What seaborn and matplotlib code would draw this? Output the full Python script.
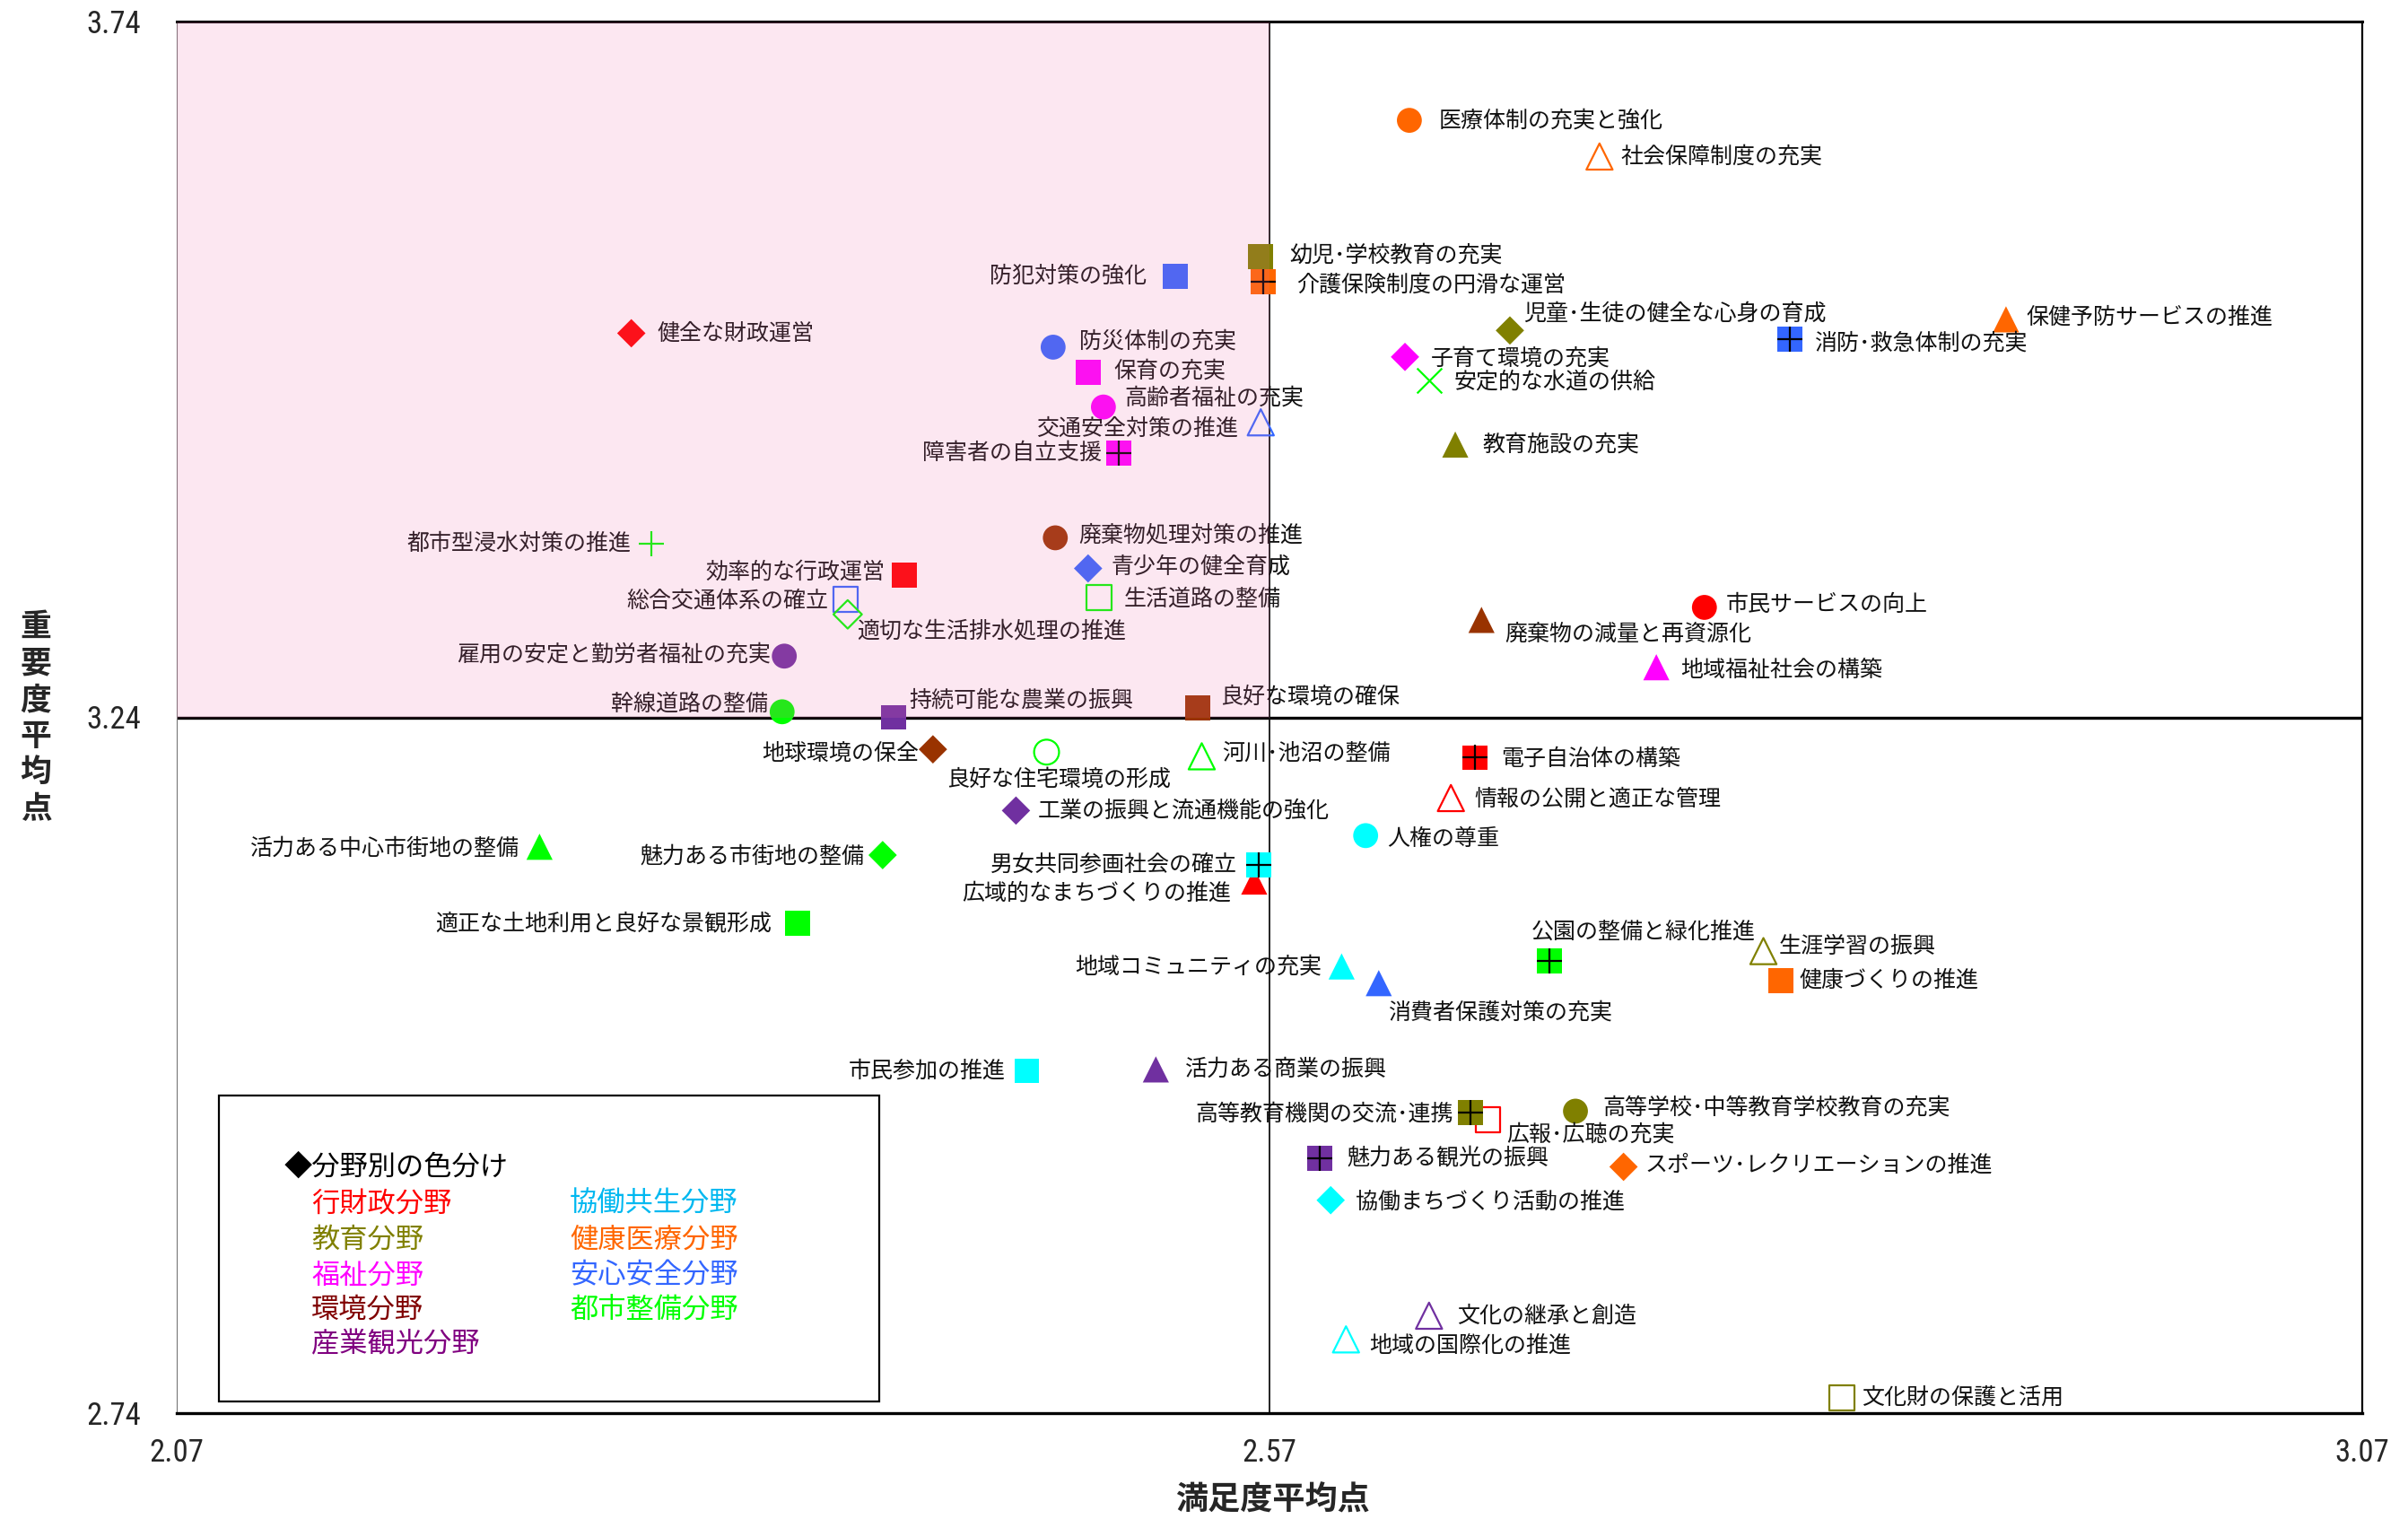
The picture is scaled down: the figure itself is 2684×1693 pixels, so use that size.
import numpy as np
import pandas as pd
import matplotlib
matplotlib.use("Agg")
import matplotlib.pyplot as plt
import seaborn as sns
from matplotlib.patches import Rectangle
from matplotlib import font_manager

sns.set_theme(style="white")
plt.rcParams["font.family"] = ["Noto Sans CJK JP", "DejaVu Sans"]

# --- data ---
items = [
    "医療体制の充実と強化", "社会保障制度の充実", "幼児・学校教育の充実", "介護保険制度の円滑な運営",
    "防犯対策の強化", "健全な財政運営", "児童・生徒の健全な心身の育成", "消防・救急体制の充実",
    "保健予防サービスの推進", "防災体制の充実", "子育て環境の充実", "保育の充実",
    "安定的な水道の供給", "高齢者福祉の充実", "交通安全対策の推進", "障害者の自立支援",
    "教育施設の充実", "都市型浸水対策の推進", "廃棄物処理対策の推進", "効率的な行政運営",
    "青少年の健全育成", "総合交通体系の確立", "適切な生活排水処理の推進", "生活道路の整備",
    "市民サービスの向上", "廃棄物の減量と再資源化", "雇用の安定と勤労者福祉の充実", "地域福祉社会の構築",
    "幹線道路の整備", "持続可能な農業の振興", "良好な環境の確保", "地球環境の保全",
    "良好な住宅環境の形成", "河川・池沼の整備", "電子自治体の構築", "情報の公開と適正な管理",
    "工業の振興と流通機能の強化", "人権の尊重", "活力ある中心市街地の整備", "魅力ある市街地の整備",
    "男女共同参画社会の確立", "広域的なまちづくりの推進", "適正な土地利用と良好な景観形成", "公園の整備と緑化推進",
    "生涯学習の振興", "地域コミュニティの充実", "健康づくりの推進", "消費者保護対策の充実",
    "市民参加の推進", "活力ある商業の振興", "高等学校・中等教育学校教育の充実", "高等教育機関の交流・連携",
    "広報・広聴の充実", "魅力ある観光の振興", "スポーツ・レクリエーションの推進", "協働まちづくり活動の推進",
    "文化の継承と創造", "地域の国際化の推進", "文化財の保護と活用",
]
satisfaction = [
    2.634, 2.721, 2.566, 2.567, 2.527, 2.278, 2.680, 2.808, 2.907, 2.471, 2.632, 2.487,
    2.643, 2.494, 2.566, 2.501, 2.655, 2.287, 2.472, 2.403, 2.487, 2.376, 2.377, 2.492,
    2.769, 2.667, 2.348, 2.747, 2.347, 2.398, 2.537, 2.416, 2.468, 2.539, 2.664, 2.653,
    2.454, 2.614, 2.236, 2.393, 2.565, 2.563, 2.354, 2.698, 2.796, 2.603, 2.804, 2.620,
    2.459, 2.518, 2.710, 2.662, 2.670, 2.593, 2.732, 2.598, 2.643, 2.605, 2.832,
]
importance = [
    3.669, 3.643, 3.571, 3.553, 3.557, 3.516, 3.518, 3.512, 3.526, 3.506, 3.499, 3.488,
    3.482, 3.463, 3.452, 3.430, 3.436, 3.365, 3.369, 3.342, 3.347, 3.325, 3.314, 3.326,
    3.319, 3.310, 3.284, 3.276, 3.244, 3.240, 3.247, 3.217, 3.215, 3.212, 3.211, 3.182,
    3.173, 3.155, 3.147, 3.141, 3.134, 3.122, 3.092, 3.065, 3.072, 3.061, 3.051, 3.049,
    2.986, 2.987, 2.957, 2.956, 2.951, 2.923, 2.917, 2.893, 2.810, 2.793, 2.751,
]
field = [
    "健康医療", "健康医療", "教育", "健康医療", "安心安全", "行財政", "教育", "安心安全",
    "健康医療", "安心安全", "福祉", "福祉", "都市整備", "福祉", "安心安全", "福祉",
    "教育", "都市整備", "環境", "行財政", "安心安全", "安心安全", "都市整備", "都市整備",
    "行財政", "環境", "産業観光", "福祉", "都市整備", "産業観光", "環境", "環境",
    "都市整備", "都市整備", "行財政", "行財政", "産業観光", "協働共生", "都市整備", "都市整備",
    "協働共生", "行財政", "都市整備", "都市整備", "教育", "協働共生", "健康医療", "安心安全",
    "協働共生", "産業観光", "教育", "教育", "行財政", "産業観光", "健康医療", "協働共生",
    "産業観光", "協働共生", "教育",
]

x_ticks = [2.07, 2.57, 3.07]
y_ticks = [2.74, 3.24, 3.74]
x_mid, y_mid = 2.57, 3.24

legend_left = ["行財政", "教育", "福祉", "環境", "産業観光"]
legend_right = ["協働共生", "健康医療", "安心安全", "都市整備"]

# --- styles ---
field_colors = {
    "行財政": "#FF0000", "教育": "#808000", "福祉": "#FF00FF", "環境": "#993300",
    "産業観光": "#7030A0", "協働共生": "#00FFFF", "健康医療": "#FF6600",
    "安心安全": "#3366FF", "都市整備": "#00FF00",
}
legend_colors = dict(field_colors, 環境="#800000", 産業観光="#800080", 協働共生="#00B8F0")

# marker kind per item: o/s/D/^ filled, "open" suffix = hollow, "sx" = square with cross
shape = [
    "o", "^open", "s", "sx", "s", "D", "D", "sx", "^", "o", "D", "s",
    "x", "o", "^open", "sx", "^", "+", "o", "s", "D", "sopen", "Dopen", "sopen",
    "o", "^", "o", "^", "o", "s", "s", "D", "oopen", "^open", "sx", "^open",
    "D", "o", "^", "D", "sx", "^", "s", "sx", "^open", "^", "s", "^",
    "s", "^", "o", "sx", "sopen", "sx", "D", "D", "^open", "^open", "sopen",
]
# label offset from marker (preview pixels, +dy = down) and alignment
label_pos = [
    (19, 0, "left"), (14, 0, "left"), (19, -1, "left"), (22, 2, "left"),
    (-19, 0, "right"), (17, 0, "left"), (9, -11, "left"), (16, 3, "left"),
    (13, -1, "left"), (17, -4, "left"), (17, 1, "left"), (17, -1, "left"),
    (16, 1, "left"), (14, -6, "left"), (-15, 4, "right"), (-11, 0, "right"),
    (18, 0, "left"), (-13, 0, "right"), (15, -2, "left"), (-13, -2, "right"),
    (15, -1, "left"), (-11, 1, "right"), (6, 11, "left"), (16, 1, "left"),
    (14, -2, "left"), (15, 9, "left"), (-9, -1, "right"), (16, 2, "left"),
    (-9, -5, "right"), (10, -11, "left"), (15, -7, "left"), (-9, 3, "right"),
    (8, 18, "center"), (13, -2, "left"), (17, 1, "left"), (15, 1, "left"),
    (14, 0, "left"), (14, 2, "left"), (-13, 1, "right"), (-12, 1, "right"),
    (-14, 0, "right"), (-15, 8, "right"), (-17, 0, "right"), (-12, -19, "left"),
    (10, -3, "left"), (-13, 0, "right"), (12, 0, "left"), (6, 19, "left"),
    (-14, 0, "right"), (19, 0, "left"), (18, -2, "left"), (-11, 1, "right"),
    (12, 10, "left"), (18, 0, "left"), (14, -1, "left"), (16, 1, "left"),
    (18, 0, "left"), (15, 4, "left"), (13, 0, "left"),
]
PX = 1.232  # preview pixel -> points

df = pd.DataFrame({
    "item": items, "satisfaction": satisfaction, "importance": importance,
    "field": field, "shape": shape,
})

fig = plt.figure(figsize=(26.84, 16.93), dpi=100)
ax = fig.add_axes([197 / 2684, 118 / 1693, 2436 / 2684, 1551 / 1693])
ax.set_xlim(x_ticks[0], x_ticks[-1])
ax.set_ylim(y_ticks[0], y_ticks[-1])

ax.axhline(y_mid, color="black", lw=2.4, zorder=1)
ax.axvline(x_mid, color="#111111", lw=1.3, zorder=1)

sizes = {"o": 400, "s": 400, "D": 260, "^": 441}


def draw(kind, marker, hollow=False):
    sub = df[df["shape"] == kind]
    if sub.empty:
        return
    sns.scatterplot(data=sub, x="satisfaction", y="importance", hue="field",
                    palette=field_colors, marker=marker, s=sizes[marker],
                    linewidth=0, legend=False, ax=ax, zorder=3)
    if hollow:
        coll = ax.collections[-1]
        coll.set_edgecolors(coll.get_facecolors())
        coll.set_facecolors("none")
        coll.set_linewidth(1.6)


for m in ["o", "s", "D", "^"]:
    draw(m + "open", m, hollow=True)
for m in ["^", "o", "D", "s"]:
    draw(m, m)
draw("sx", "s")
crossed = df[df["shape"] == "sx"]
sns.scatterplot(data=crossed, x="satisfaction", y="importance", marker="+", s=400,
                color="black", linewidth=1.6, legend=False, ax=ax, zorder=4)
for m in ["+", "x"]:
    sub = df[df["shape"] == m]
    sns.scatterplot(data=sub, x="satisfaction", y="importance", marker=m, s=400,
                    color=field_colors["都市整備"], linewidth=1.6, legend=False, ax=ax, zorder=4)

for (name, xv, yv), (dx, dy, ha) in zip(zip(items, satisfaction, importance), label_pos):
    ax.annotate(name.replace("・", "･"), (xv, yv), xytext=(dx * PX, -dy * PX),
                textcoords="offset points", ha=ha, va="center", fontsize=18,
                color="#111111", zorder=6)

# translucent pink over the high-importance / low-satisfaction quadrant
ax.fill_between([x_ticks[0], x_mid], y_mid, y_ticks[-1], color="#F26FAE", alpha=0.16,
                linewidth=0, zorder=9)

# legend box
ax.add_patch(Rectangle((0.0193, 0.0084), 0.3021, 0.2198, transform=ax.transAxes,
                       facecolor="white", edgecolor="black", lw=1.6, zorder=10))
ax.text(0.0493, 0.177, "◆分野別の色分け", transform=ax.transAxes, fontsize=22.5,
        va="center", ha="left", color="black", zorder=11)
rows_y = [0.1505, 0.1245, 0.099, 0.0745, 0.0493]
for f, yy in zip(legend_left, rows_y):
    ax.text(0.0616, yy, f + "分野", transform=ax.transAxes, fontsize=22.5,
            va="center", ha="left", color=legend_colors[f], zorder=11)
for f, yy in zip(legend_right, rows_y):
    ax.text(0.1798, yy, f + "分野", transform=ax.transAxes, fontsize=22.5,
            va="center", ha="left", color=legend_colors[f], zorder=11)

# axes frame and ticks
ax.spines["top"].set_linewidth(2.2)
ax.spines["bottom"].set_linewidth(2.4)
ax.spines["right"].set_linewidth(1.6)
ax.spines["left"].set_linewidth(0.8)
ax.spines["left"].set_color("#777777")
for s in ["top", "bottom", "right"]:
    ax.spines[s].set_color("black")

names = {f.name for f in font_manager.fontManager.ttflist}
narrow = next((n for n in ["Liberation Sans Narrow", "Roboto Condensed",
                           "DejaVu Sans Condensed"] if n in names), "DejaVu Sans")

ax.set_xticks(x_ticks)
ax.set_xticklabels([f"{v:.2f}" for v in x_ticks])
ax.set_yticks(y_ticks)
ax.set_yticklabels([f"{v:.2f}" for v in y_ticks])
ax.tick_params(axis="both", length=0, labelsize=25)
ax.tick_params(axis="x", pad=20)
ax.tick_params(axis="y", pad=29)
for lab in ax.get_xticklabels() + ax.get_yticklabels():
    lab.set_family([narrow, "DejaVu Sans"])
    lab.set_stretch("condensed")
ax.set_xlabel("")
ax.set_ylabel("")

fig.text(1418 / 2684, 1 - 1672 / 1693, "満足度平均点", fontsize=26, fontweight="bold",
         ha="center", va="center")
fig.text(40 / 2684, 1 - 800 / 1693, "\n".join("重要度平均点"), fontsize=25,
         fontweight="bold", ha="center", va="center", linespacing=1.2)

fig.savefig("out.png", dpi=100)
